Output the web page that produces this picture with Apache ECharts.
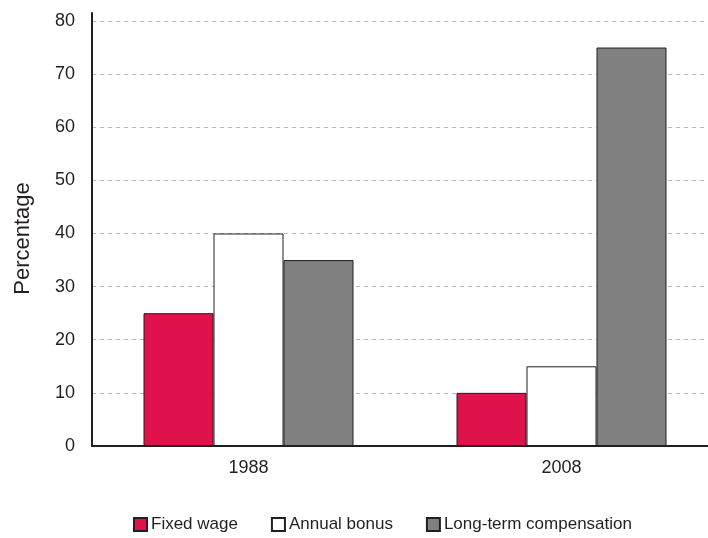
<!DOCTYPE html>
<html>
<head>
<meta charset="utf-8">
<script src="https://cdn.jsdelivr.net/npm/echarts@6/dist/echarts.min.js"></script>
<style>
  html, body { margin: 0; padding: 0; background: #fff; }
  #panel { width: 708px; height: 538px; }
</style>
</head>
<body>
<div id="panel"></div>
<script>
  const years = ["1988", "2008"];
  const fixedWage = [25, 10];
  const annualBonus = [40, 15];
  const longTerm = [35, 75];
  const yTicks = [0, 10, 20, 30, 40, 50, 60, 70, 80];

  const panel = echarts.init(document.getElementById("panel"));
  const font = "Liberation Sans, Arial, sans-serif";
  const ink = "#231f20";

  const barStyle = (color) => ({
    color: color,
    borderColor: ink,
    borderWidth: 1
  });

  const option = {
    animation: false,
    textStyle: { fontFamily: font },
    grid: {
      left: 92,
      right: -10,
      top: 13,
      bottom: 92,
      containLabel: false,
      outerBoundsMode: "none"
    },
    legend: {
      left: 133,
      top: 516,
      padding: 0,
      itemWidth: 13,
      itemHeight: 13,
      itemGap: 33,
      textStyle: { fontSize: 17, color: ink, fontFamily: font, padding: [0, 0, 0, -1] },
      data: [
        { name: "Fixed wage", icon: "rect" },
        { name: "Annual bonus", icon: "rect" },
        { name: "Long-term compensation", icon: "rect" }
      ]
    },
    xAxis: {
      type: "category",
      data: years,
      axisLine: { lineStyle: { color: ink, width: 2 } },
      axisTick: { show: false },
      axisLabel: { fontSize: 18, color: ink, margin: 13, fontFamily: font }
    },
    yAxis: {
      type: "value",
      min: 0,
      max: 81.5,
      interval: 10,
      name: "Percentage",
      nameLocation: "middle",
      nameGap: 58,
      nameTextStyle: { fontSize: 22, color: ink, fontFamily: font, padding: [0, 18, 0, 0] },
      axisLine: { show: true, lineStyle: { color: ink, width: 2 } },
      axisTick: { show: false },
      axisLabel: {
        fontSize: 18,
        color: ink,
        margin: 17,
        fontFamily: font,
        showMaxLabel: false,
        formatter: (v) => (yTicks.indexOf(v) >= 0 ? String(v) : "")
      },
      splitLine: {
        show: true,
        showMaxLine: false,
        lineStyle: { color: "#b8b8b8", type: [4, 4], width: 1 }
      }
    },
    series: [
      {
        name: "Fixed wage",
        type: "bar",
        barWidth: 70,
        barGap: "0%",
        itemStyle: barStyle("#e0124c"),
        data: fixedWage
      },
      {
        name: "Annual bonus",
        type: "bar",
        barWidth: 70,
        barGap: "0%",
        itemStyle: barStyle("#ffffff"),
        data: annualBonus
      },
      {
        name: "Long-term compensation",
        type: "bar",
        barWidth: 70,
        barGap: "0%",
        itemStyle: barStyle("#808080"),
        data: longTerm
      }
    ]
  };
  panel.setOption(option, true);
</script>
</body>
</html>
